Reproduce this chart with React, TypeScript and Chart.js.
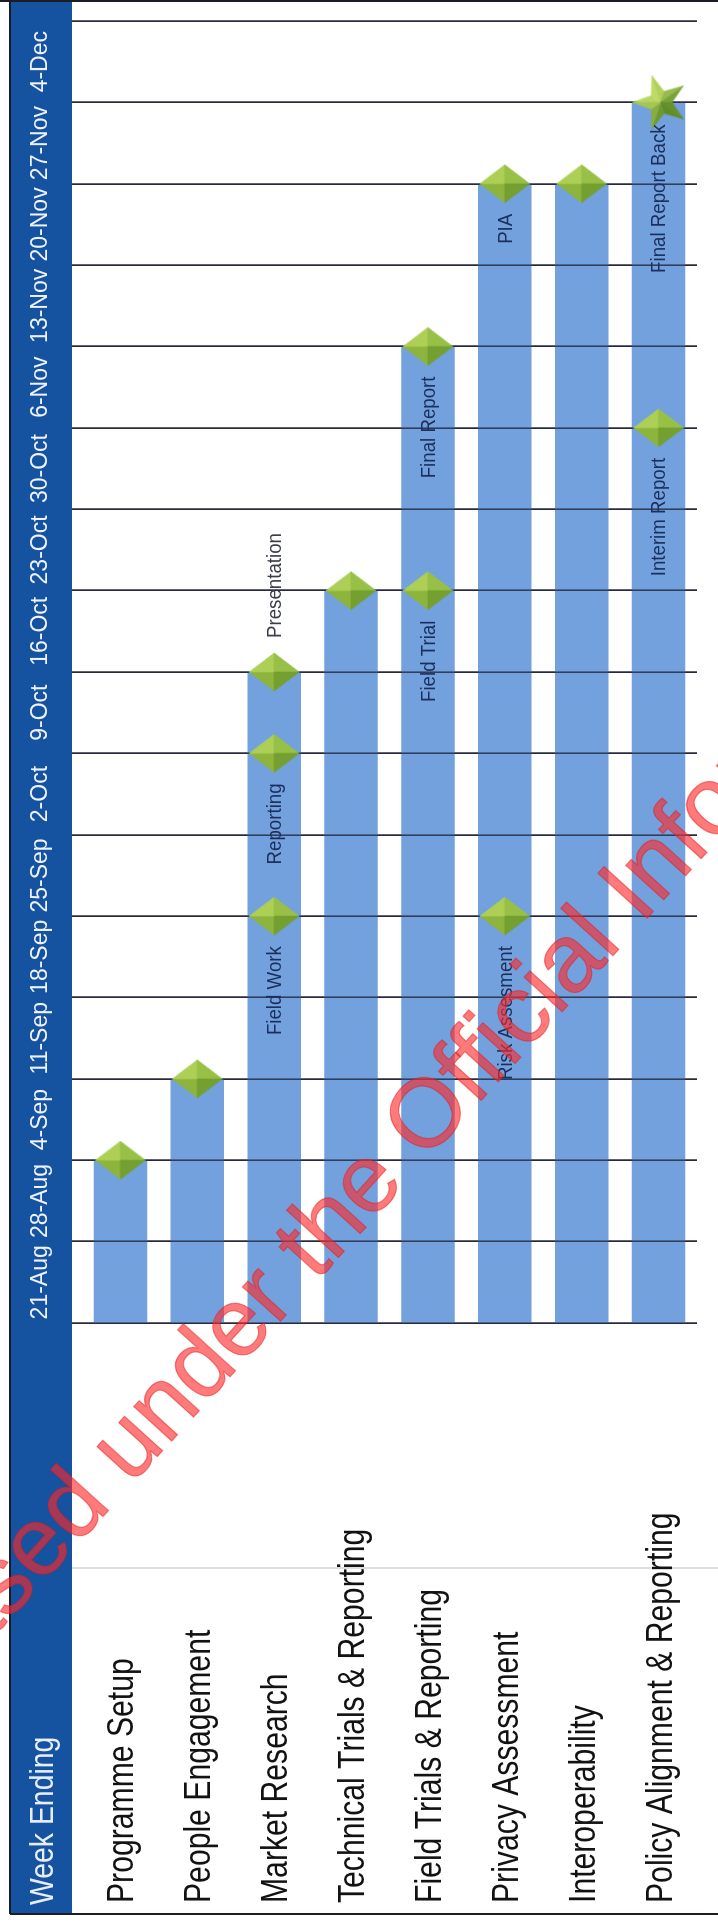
import React, { useEffect, useRef } from 'react';
import { Chart, registerables } from 'chart.js';

Chart.register(...registerables);

// ---------------- data ----------------
const categories = [
  'Programme Setup',
  'People Engagement',
  'Market Research',
  'Technical Trials & Reporting',
  'Field Trials & Reporting',
  'Privacy Assessment',
  'Interoperability',
  'Policy Alignment & Reporting',
];

const weekLabels = [
  '21-Aug', '28-Aug', '4-Sep', '11-Sep', '18-Sep', '25-Sep', '2-Oct', '9-Oct',
  '16-Oct', '23-Oct', '30-Oct', '6-Nov', '13-Nov', '20-Nov', '27-Nov', '4-Dec',
];

// bar end = number of weeks elapsed (end of the labelled week)
const barEnd = [2, 3, 8, 9, 12, 14, 14, 15];

const milestoneCategory = [
  'Programme Setup',
  'People Engagement',
  'Market Research',
  'Market Research',
  'Market Research',
  'Technical Trials & Reporting',
  'Field Trials & Reporting',
  'Field Trials & Reporting',
  'Privacy Assessment',
  'Privacy Assessment',
  'Interoperability',
  'Policy Alignment & Reporting',
];
const milestoneWeek = [2, 3, 5, 7, 8, 9, 9, 12, 5, 14, 14, 11];
const milestoneText = [
  '', '', 'Field Work', 'Reporting', 'Presentation', '', 'Field Trial', 'Final Report',
  'Risk Assesment', 'PIA', '', 'Interim Report',
];

const finalCategory = ['Policy Alignment & Reporting'];
const finalWeek = [15];
const finalText = ['Final Report Back'];

const labelAfterMarker = ['Presentation'];

const headerText = 'Week Ending';
const watermarkText = 'Released under the Official Information Act';

// ---------------- styles ----------------
const BAND = '#15529F';
const BAR = 'rgb(114,161,221)';
const GRID = 'rgba(22,24,44,0.72)';
const FAM = '"Liberation Sans", Arial, sans-serif';

function makeDiamond(): HTMLCanvasElement {
  const w = 40, h = 52;
  const c = document.createElement('canvas');
  c.width = w; c.height = h;
  const g = c.getContext('2d')!;
  const cx = w / 2, cy = h / 2;
  const L: [number, number] = [1, cy];
  const T: [number, number] = [cx, 1];
  const R: [number, number] = [w - 1, cy];
  const B: [number, number] = [cx, h - 1];
  const facets: [[number, number], [number, number], string][] = [
    [L, T, '#8DB43D'],
    [T, R, '#ADCF55'],
    [R, B, '#98C046'],
    [B, L, '#74A031'],
  ];
  facets.forEach(([p, q, col]) => {
    g.beginPath();
    g.moveTo(cx, cy);
    g.lineTo(p[0], p[1]);
    g.lineTo(q[0], q[1]);
    g.closePath();
    g.fillStyle = col;
    g.fill();
    g.strokeStyle = col;
    g.lineWidth = 0.6;
    g.stroke();
  });
  return c;
}

function makeStar(): HTMLCanvasElement {
  const s = 60;
  const c = document.createElement('canvas');
  c.width = s; c.height = s;
  const g = c.getContext('2d')!;
  const cx = s / 2, cy = s / 2 + 2;
  const R = 28, r = 11.5;
  const pts: [number, number, number][] = [];
  for (let k = 0; k < 10; k++) {
    const ang = -Math.PI / 2 + (k * Math.PI) / 5;
    const rad = k % 2 === 0 ? R : r;
    pts.push([cx + rad * Math.cos(ang), cy + rad * Math.sin(ang), ang]);
  }
  const light = [0.7, -0.7];
  const dark = [96, 140, 40];
  const bright = [190, 220, 100];
  for (let k = 0; k < 10; k++) {
    const p = pts[k], q = pts[(k + 1) % 10];
    const mid = (p[2] + q[2] + (k === 9 ? 2 * Math.PI : 0)) / 2;
    const d = Math.cos(mid) * light[0] + Math.sin(mid) * light[1];
    const t = 0.5 + 0.5 * d;
    const col = `rgb(${dark.map((v, i) => Math.round(v + (bright[i] - v) * t)).join(',')})`;
    g.beginPath();
    g.moveTo(cx, cy);
    g.lineTo(p[0], p[1]);
    g.lineTo(q[0], q[1]);
    g.closePath();
    g.fillStyle = col;
    g.fill();
    g.strokeStyle = col;
    g.lineWidth = 0.6;
    g.stroke();
  }
  return c;
}

// draw horizontally condensed text
function condensedText(
  ctx: CanvasRenderingContext2D, text: string, x: number, y: number,
  size: number, squeeze: number, align: 'left' | 'right', baseline: CanvasTextBaseline,
) {
  ctx.save();
  ctx.translate(x, y);
  ctx.scale(squeeze, 1);
  ctx.font = `${size}px ${FAM}`;
  ctx.textAlign = align;
  ctx.textBaseline = baseline;
  ctx.fillText(text, 0, 0);
  ctx.restore();
}

export default function App() {
  const ref = useRef<HTMLCanvasElement>(null);

  useEffect(() => {
    const canvas = ref.current;
    if (!canvas) return;

    const diamond = makeDiamond();
    const star = makeStar();

    const decorPlugin = {
      id: 'decor',
      beforeDraw(chart: any) {
        const ctx = chart.ctx as CanvasRenderingContext2D;
        ctx.save();
        ctx.fillStyle = '#ffffff';
        ctx.fillRect(0, 0, chart.width, chart.height);
        // header band
        ctx.fillStyle = BAND;
        ctx.fillRect(8, 10, chart.width - 8, 62);
        // faint separator in label area
        ctx.strokeStyle = 'rgba(0,0,0,0.13)';
        ctx.lineWidth = 2;
        ctx.beginPath();
        ctx.moveTo(354, 72);
        ctx.lineTo(354, chart.height);
        ctx.stroke();
        // frame
        ctx.strokeStyle = '#1c1c26';
        ctx.lineWidth = 2;
        ctx.beginPath();
        ctx.moveTo(8, 10);
        ctx.lineTo(chart.width, 10);
        ctx.moveTo(8, 10);
        ctx.lineTo(8, chart.height);
        ctx.moveTo(chart.width - 1, 0);
        ctx.lineTo(chart.width - 1, chart.height);
        ctx.stroke();
        // header text
        ctx.fillStyle = '#E6EEFA';
        condensedText(ctx, headerText, 17, 53, 33, 0.86, 'left', 'alphabetic');
        // category labels (positions from the category scale)
        const yScale = chart.scales.y;
        ctx.fillStyle = '#121212';
        categories.forEach((c, i) => {
          const y = yScale.getPixelForValue(i);
          condensedText(ctx, c, 19, y + 13, 37, 0.815, 'left', 'alphabetic');
        });
        ctx.restore();
      },
      afterDatasetDraw(chart: any, args: any) {
        if (args.index === 0) {
          chart.scales.xw.drawGrid(chart.chartArea);
        }
      },
      afterDatasetsDraw(chart: any) {
        const ctx = chart.ctx as CanvasRenderingContext2D;
        const drawLabels = (dsIndex: number, texts: string[], gap: number) => {
          const meta = chart.getDatasetMeta(dsIndex);
          meta.data.forEach((el: any, i: number) => {
            const t = texts[i];
            if (!t) return;
            const after = labelAfterMarker.includes(t);
            ctx.save();
            ctx.fillStyle = after ? '#3a3d48' : '#1B2E5C';
            condensedText(ctx, t, after ? el.x + 34 : el.x - gap, el.y + 1, 21, 0.89,
              after ? 'left' : 'right', 'middle');
            ctx.restore();
          });
        };
        drawLabels(1, milestoneText, 30);
        drawLabels(2, finalText, 22);
      },
      afterDraw(chart: any) {
        const ctx = chart.ctx as CanvasRenderingContext2D;
        ctx.save();
        ctx.translate(113, -163);
        ctx.rotate(0.738);
        ctx.font = `97px ${FAM}`;
        ctx.textAlign = 'left';
        ctx.textBaseline = 'alphabetic';
        ctx.fillStyle = 'rgba(255,40,40,0.62)';
        ctx.fillText(watermarkText, 0, 0);
        ctx.lineWidth = 1.2;
        ctx.strokeStyle = 'rgba(225,30,30,0.5)';
        ctx.strokeText(watermarkText, 0, 0);
        ctx.restore();
      },
    };

    const chart = new Chart(canvas, {
      type: 'bar',
      data: {
        labels: categories,
        datasets: [
          {
            type: 'bar',
            label: 'Duration',
            data: barEnd,
            backgroundColor: BAR,
            borderWidth: 0,
            barPercentage: 0.695,
            categoryPercentage: 1,
            xAxisID: 'x',
            yAxisID: 'y',
            order: 3,
          } as any,
          {
            type: 'line',
            label: 'Milestones',
            data: milestoneWeek.map((w, i) => ({ x: w, y: milestoneCategory[i] })),
            showLine: false,
            pointStyle: diamond,
            pointRadius: 20,
            pointHoverRadius: 20,
            xAxisID: 'x',
            yAxisID: 'y',
            order: 2,
            clip: false,
          } as any,
          {
            type: 'line',
            label: 'Final Report Back',
            data: finalWeek.map((w, i) => ({ x: w, y: finalCategory[i] })),
            showLine: false,
            pointStyle: star,
            pointRadius: 20,
            pointHoverRadius: 20,
            xAxisID: 'x',
            yAxisID: 'y',
            order: 1,
            clip: false,
          } as any,
        ],
      },
      options: {
        indexAxis: 'y',
        responsive: false,
        maintainAspectRatio: false,
        animation: false,
        events: [],
        layout: { padding: { left: 19, right: 1, top: 0, bottom: 3 } },
        plugins: {
          legend: { display: false },
          tooltip: { enabled: false },
        },
        scales: {
          x: { type: 'linear', min: 0, max: 16, display: false },
          xw: {
            type: 'category',
            labels: weekLabels,
            position: 'top',
            offset: true,
            grid: {
              offset: true,
              display: true,
              color: GRID,
              lineWidth: 1.6,
              tickLength: 10,
              drawTicks: true,
            },
            border: { display: false },
            ticks: {
              color: '#EEF3FF',
              font: { family: FAM, size: 23, lineHeight: 1 },
              padding: 19.5,
              autoSkip: false,
              maxRotation: 0,
              minRotation: 0,
            },
            afterFit: (s: any) => { s.height = 82; },
          },
          y: {
            type: 'category',
            position: 'left',
            offset: true,
            grid: { display: false },
            border: { display: false },
            ticks: { display: false },
            afterFit: (s: any) => { s.width = 580; },
          },
        } as any,
      },
      plugins: [decorPlugin],
    } as any);

    return () => chart.destroy();
  }, []);

  return (
    <div style={{ position: 'absolute', left: 0, top: 0, width: 718, height: 1922, overflow: 'hidden', background: '#fff' }}>
      <div
        style={{
          position: 'absolute',
          left: 0,
          top: 0,
          width: 1922,
          height: 718,
          transformOrigin: '0 0',
          transform: 'translate(0px, 1922px) rotate(-90deg)',
        }}
      >
        <canvas ref={ref} width={1922} height={718} style={{ display: 'block', width: 1922, height: 718 }} />
      </div>
    </div>
  );
}
